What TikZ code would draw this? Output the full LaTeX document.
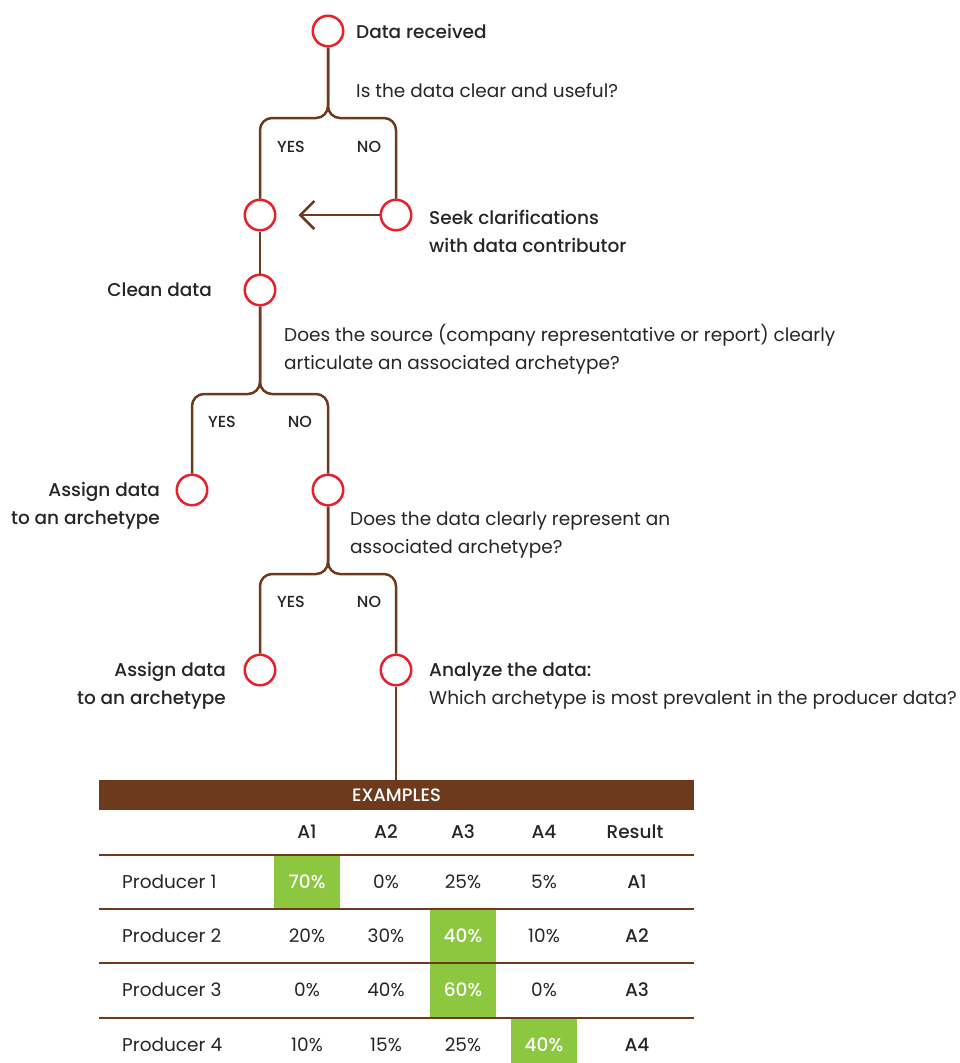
\documentclass[tikz,border=0pt]{standalone}
\usepackage{fontspec}
\setmainfont{Poppins}[BoldFont={Poppins Medium}]
\usetikzlibrary{arrows.meta,positioning}
\definecolor{treebrown}{HTML}{6E3A1E}
\definecolor{ringred}{HTML}{E8202A}
\definecolor{cellgreen}{HTML}{8DC63F}
\definecolor{inkgray}{HTML}{262626}
\tikzset{
  ring/.style={circle, draw=ringred, line width=2.5pt, minimum size=30.5pt, inner sep=0pt, fill=white},
  flow/.style={treebrown, line width=2.5pt, rounded corners=12pt},
  back/.style={-{Straight Barb[length=14pt,width=28pt]}, treebrown, line width=2.5pt, shorten >=22pt},
  txt/.style={inner sep=0pt, text=inkgray, font=\fontsize{18.5}{28}\selectfont},
  hd/.style={txt, font=\fontsize{18.5}{28}\selectfont\bfseries},
  yn/.style={txt, font=\fontsize{16}{18}\selectfont\bfseries},
  rule/.style={treebrown, line width=1.5pt},
  cell0/.style={txt},
  cell1/.style={txt, font=\fontsize{18.5}{28}\selectfont\bfseries, text=white, fill=cellgreen,
    minimum width=66pt, minimum height=54pt},
}
\begin{document}
\begin{tikzpicture}[x=1pt,y=-1pt]
\useasboundingbox (0,0) rectangle (959,1063);
\node[ring] (c1) at (328,31) {};
\node[ring] (c2) at (260,215) {};
\node[ring] (c3) at (396,215) {};
\node[ring] (c4) at (260,290) {};
\node[ring] (c5) at (192,490) {};
\node[ring] (c6) at (328,490) {};
\node[ring] (c7) at (260,670) {};
\node[ring] (c8) at (396,670) {};
\coordinate (f1) at (328,118);
\coordinate (f2) at (260,394);
\coordinate (f3) at (328,574);

\draw[flow] (c1) -- (f1) -| (c2);
\draw[flow] (c1) -- (f1) -| (c3);
\draw[flow] (c2) -- (c4);
\draw[flow] (c4) -- (f2) -| (c5);
\draw[flow] (c4) -- (f2) -| (c6);
\draw[flow] (c6) -- (f3) -| (c7);
\draw[flow] (c6) -- (f3) -| (c8);
\draw[back] (c3) -- (c2);

\node[hd, anchor=west] (t1) at (356,31) {Data received};
\node[txt, anchor=west] (q1) at (356,91) {Is the data clear and useful?};
\node[yn] (y1) at (291,147) {YES};
\node[yn] (n1) at (369,147) {NO};
\node[hd, anchor=west, align=left] (t3) at (429,231) {Seek clarifications\\with data contributor};
\node[hd, anchor=east] (t4) at (212,290) {Clean data};
\node[txt, anchor=west, align=left] (q2) at (284,349) {Does the source (company representative or report) clearly\\articulate an associated archetype?};
\node[yn] (y2) at (222,422) {YES};
\node[yn] (n2) at (300,422) {NO};
\node[hd, anchor=east, align=right] (t5) at (160,506) {Assign data\\to an archetype};
\node[txt, anchor=west, align=left] (q3) at (350,535) {Does the data clearly represent an\\associated archetype?};
\node[yn] (y3) at (291,602) {YES};
\node[yn] (n3) at (369,602) {NO};
\node[hd, anchor=east, align=right] (t7) at (226,686) {Assign data\\to an archetype};
\node[txt, anchor=west, align=left] (t8) at (429,686) {\bfseries Analyze the data:\\Which archetype is most prevalent in the producer data?};

\node[fill=treebrown, minimum width=595pt, minimum height=30pt, inner sep=0pt,
  text=white, font=\fontsize{18}{20}\selectfont\bfseries] (band) at (396.5,795) {EXAMPLES};
\draw[flow] (c8) -- (c8 |- band.north);

\foreach \col/\x in {A1/307, A2/386, A3/463, A4/544, Result/635}
  \node[hd] (h-\col) at (\x,832) {\col};

\foreach \y/\row/\win/\res/\vals in {882/1/1/A1/{70,0,25,5}, 936/2/3/A2/{20,30,40,10},
    990/3/3/A3/{0,40,60,0}, 1045/4/4/A4/{10,15,25,40}}{
  \node[txt, anchor=west] (p\row) at (122,\y) {Producer \row};
  \foreach \v [count=\k] in \vals {
    \pgfmathtruncatemacro{\hit}{\k==\win}
    \pgfmathsetmacro{\cx}{{307,386,463,544}[\k-1]}
    \node[cell\hit] (p\row-\k) at (\cx,\y) {\v\%};
  }
  \node[hd] (r\row) at (637,\y) {\res};
}
\foreach \y in {855,909,963,1018}
  \draw[rule] (99,\y) -- (694,\y);
\end{tikzpicture}
\end{document}
